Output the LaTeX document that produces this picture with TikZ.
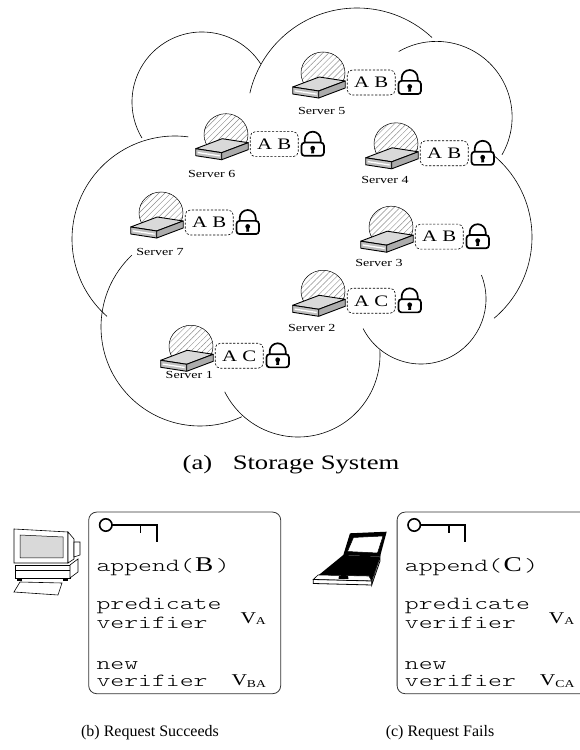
\documentclass[tikz,border=0pt]{standalone}
\usepackage{fontspec}
\setmainfont{Liberation Serif}[FakeStretch=1.3]
\newfontfamily\capfont{Liberation Serif}
\newfontfamily\codefont{lmmonolt10-regular.otf}[FakeStretch=1.43]
\usetikzlibrary{patterns.meta, positioning}

\tikzset{
  cloudarc/.style={line width=0.6pt},
  dome/.style={draw=black, line width=0.5pt, pattern={Lines[angle=45, distance=4.2pt, line width=0.45pt]}, pattern color=gray!90},
  slabtop/.style={fill=gray!30, draw=black, line width=0.9pt, line join=round},
  slabfront/.style={fill=gray!50, draw=black, line width=0.9pt, line join=round},
  slabside/.style={fill=gray!65, draw=black, line width=0.9pt, line join=round},
  databox/.style={draw, dash pattern=on 2.2pt off 1.6pt, rounded corners=5pt, line width=0.6pt,
    minimum width=48pt, minimum height=25pt, inner sep=0pt, font=\fontsize{16}{16}\selectfont},
  lockline/.style={line width=1.7pt},
  srvlabel/.style={font=\fontsize{10.8}{12}\selectfont, inner sep=0pt},
  reqbox/.style={draw=black!80, line width=0.8pt, rounded corners=8pt, anchor=north west,
    minimum width=192pt, minimum height=181.6pt},
  code/.style={anchor=base west, inner sep=0pt, font=\codefont\fontsize{18.5}{18.5}\selectfont},
  verif/.style={anchor=base west, inner sep=0pt, font=\fontsize{16.5}{16.5}\selectfont},
  keyline/.style={line width=1.6pt},
  caption/.style={font=\capfont\fontsize{16}{18}\selectfont}
}

% padlock, centred on its body
\newcommand{\drawlock}[1]{%
  \begin{scope}[shift={#1}]
    \draw[lockline] (-8,6.6) -- (-8,9.5) arc[start angle=180, end angle=0, radius=8] -- (8,6.6);
    \draw[lockline, fill=white, rounded corners=3pt] (-11.2,-6.6) rectangle (11.2,6.6);
    \fill (0,1) circle (2.4);
    \fill (-1.2,0) -- (1.2,0) -- (1.5,-4.2) -- (-1.5,-4.2) -- cycle;
  \end{scope}}

% one server: dome + slab, data box, lock and label
% #1 name, #2 box centre, #3 data, #4 label position, #5 label
\newcommand{\storeserver}[5]{%
  \begin{scope}[shift={#2}]
    \begin{scope}
      \clip (-100,-4.5) -- (-78.5,-4.5) -- (-52,5.5) -- (-26,1.5) -- (-10,1.5) -- (-10,50) -- (-100,50) -- cycle;
      \path[dome] (-48.2,9.5) ellipse [x radius=22, y radius=21];
    \end{scope}
    \filldraw[slabtop] (-78.5,-4.5) -- (-52.5,-8.5) -- (-26,1.5) -- (-52,5.5) -- cycle;
    \filldraw[slabfront] (-78.5,-4.5) -- (-52.5,-8.5) -- (-52.5,-15.5) -- (-78.5,-11.5) -- cycle;
    \filldraw[slabside] (-52.5,-8.5) -- (-26,1.5) -- (-26,-5.5) -- (-52.5,-15.5) -- cycle;
    \draw[white, line width=1.3pt] (-76.5,-8.3) -- (-54.5,-11.7);
    \node[databox] (#1) at (0,0) {#3};
    \drawlock{(38.5,-5)}
  \end{scope}
  \node[srvlabel] (#1lbl) at #4 {#5};
}

\newcommand{\argletter}[1]{{\rmfamily\fontsize{21}{21}\selectfont\hspace{1.5pt}#1\hspace{2.5pt}}}
\newcommand{\vsub}[1]{V\raisebox{-1.2pt}{\fontsize{10.5}{10.5}\selectfont #1}}

% key, append(...) and the two verifiers inside a request box
\newcommand{\reqcontent}[3]{%
  \begin{scope}[shift={(#1.north west)}]
    \draw[keyline] (17.5,-13.3) circle (6.2);
    \draw[keyline] (23.7,-13.3) -- (68.4,-13.3) -- (68.4,-30);
    \draw[keyline] (52,-13.3) -- (52,-21.6);
    \node[code] (#1app) at (8,-60) {append(\argletter{#2})};
    \node[code] (#1pred) at (8,-98.3) {predicate};
    \node[code] (#1predv) at (8,-116.6) {verifier};
    \node[verif] (#1va) at (152,-111.6) {\vsub{A}};
    \node[code] (#1new) at (8,-158.3) {new};
    \node[code] (#1newv) at (8,-175) {verifier};
    \node[verif] (#1vn) at (143,-174.3) {\vsub{#3}};
  \end{scope}}

\begin{document}
\begin{tikzpicture}[x=1pt, y=1pt]
  \useasboundingbox (0,0) rectangle (580,750);
  \clip (0,0) rectangle (580,750);

  % cloud outline
  \foreach \cx/\cy/\r/\a/\b in {202/648/70/33/211, 357/632/110/47/167, 436.5/633/75.6/-30/120,
      426/513/106/-50/53, 421/451/65/207/381.6, 298/395/82/206.7/363.5,
      200/423/99/133.5/295, 175/511/103/82.6/228.7}
    \draw[cloudarc] (\cx,\cy) ++(\a:\r) arc[start angle=\a, end angle=\b, radius=\r];

  % servers
  \storeserver{s5}{(371.2,667.5)}{A B}{(321.7,639)}{Server 5}
  \storeserver{s6}{(274.2,605.8)}{A B}{(211.7,576)}{Server 6}
  \storeserver{s4}{(444.2,596.7)}{A B}{(385,570)}{Server 4}
  \storeserver{s7}{(209.2,527.5)}{A B}{(160,498)}{Server 7}
  \storeserver{s3}{(439.2,513.3)}{A B}{(379,487)}{Server 3}
  \storeserver{s2}{(371.2,449.2)}{A C}{(311.7,422)}{Server 2}
  \storeserver{s1}{(239.2,394.2)}{A C}{(189.3,375)}{Server 1}

  \node[font=\fontsize{20.5}{22}\selectfont] (capa) at (291,285) {(a)\quad Storage System};

  % desktop client
  \filldraw[fill=white, line width=0.6pt] (14,221) -- (68,218) -- (68,187) -- (14,187) -- cycle;
  \filldraw[fill=gray!30, line width=0.5pt] (20,215) -- (63,213) -- (63,192) -- (20,192) -- cycle;
  \filldraw[fill=white, line width=0.6pt] (68,218) -- (74,211) -- (74,191) -- (68,187) -- cycle;
  \filldraw[fill=white, line width=0.6pt] (74,208) -- (80,208) -- (80,195) -- (74,193) -- cycle;
  \filldraw[fill=white, line width=0.6pt] (15,185) -- (70,185) -- (70,172) -- (15,172) -- cycle;
  \filldraw[fill=white, line width=0.6pt] (70,185) -- (78,191) -- (78,178) -- (70,172) -- cycle;
  \draw[line width=0.4pt] (15,180) -- (70,180);
  \fill (17,172) rectangle (22,169);
  \fill (63,172) rectangle (68,169);
  \filldraw[fill=white, line width=0.6pt] (20,168) -- (62,167) -- (58,155) -- (14,158) -- cycle;

  % laptop client
  \fill (350,216.7) -- (386.7,218.3) -- (380,193.3) -- (343.3,195) -- cycle;
  \filldraw[fill=white, line width=0.5pt] (353.5,212.5) -- (383,214) -- (377.5,197) -- (347.5,198.5) -- cycle;
  \fill (343.3,195) -- (380,193.3) -- (371.7,169) -- (313.3,170.5) -- cycle;
  \filldraw[fill=white, line width=0.6pt] (318,175) -- (369,174) -- (371.7,169) -- (313.3,170.5) -- cycle;
  \fill (339,174.2) -- (348,174) -- (348.5,171) -- (338.5,171.2) -- cycle;
  \filldraw[fill=white, line width=0.8pt] (313.3,170.5) -- (371.7,169) -- (371.7,165) -- (313.3,166.5) -- cycle;
  \filldraw[fill=white, line width=0.8pt] (371.7,169) -- (380,193.3) -- (380,189) -- (371.7,165) -- cycle;

  % the two requests
  \node[reqbox] (req1) at (88.3,238.3) {};
  \node[reqbox] (req2) at (396.7,238.3) {};
  \reqcontent{req1}{B}{BA}
  \reqcontent{req2}{C}{CA}

  \node[caption] (capb) at (150,17) {(b) Request Succeeds};
  \node[caption] (capc) at (440,17) {(c) Request Fails};
\end{tikzpicture}
\end{document}
